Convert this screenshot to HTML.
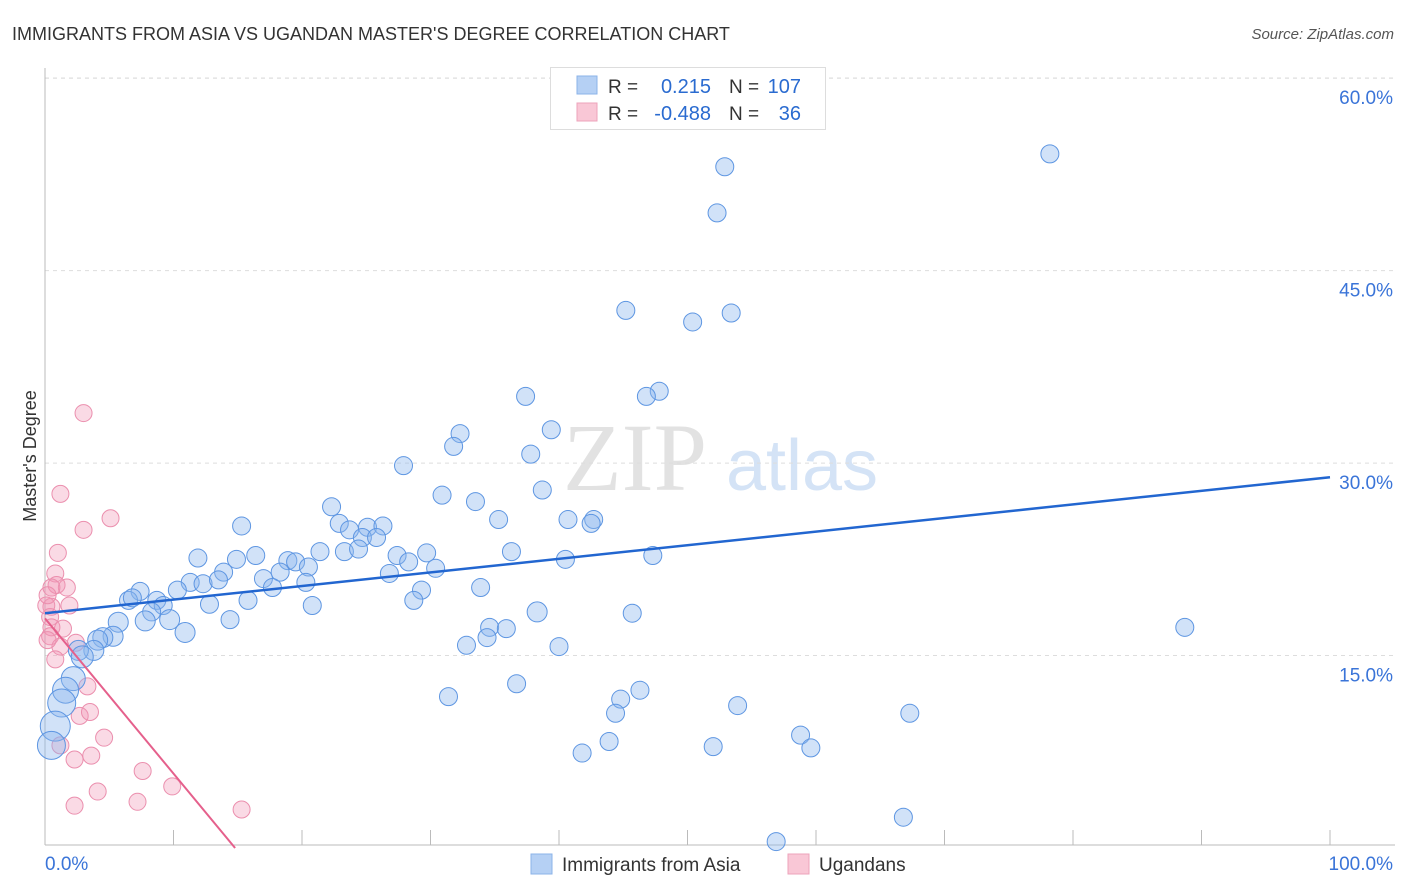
<!DOCTYPE html>
<html><head><meta charset="utf-8"><style>
body{margin:0;background:#fff;font-family:"Liberation Sans",sans-serif;}
#wrap{position:relative;width:1406px;height:892px;overflow:hidden}
</style></head><body>
<div id="wrap">
<svg id="svg" width="1406" height="892" xmlns="http://www.w3.org/2000/svg">
<text x="12" y="40" font-size="18" fill="#333">IMMIGRANTS FROM ASIA VS UGANDAN MASTER'S DEGREE CORRELATION CHART</text>
<text x="1394" y="39" font-size="15" fill="#555" font-style="italic" text-anchor="end">Source: ZipAtlas.com</text>
<text x="36" y="456" font-size="18" fill="#333" text-anchor="middle" transform="rotate(-90 36 456)">Master's Degree</text>
<g><text x="635" y="490" font-size="96" font-family="Liberation Serif,serif" fill="#e2e2e2" text-anchor="middle">ZIP</text><text x="802" y="490" font-size="72" fill="#d4e3f6" text-anchor="middle">atlas</text></g>
<g id="grid"></g><g id="axes"></g><g id="pts"></g><g id="trend"></g>
<g>
<rect x="550.5" y="67.5" width="275" height="62" fill="#fff" stroke="#ddd"/>
<rect x="577" y="76" width="20" height="18" fill="#b5d0f4" stroke="#8bb3e8"/>
<rect x="577" y="103" width="20" height="18" fill="#f9c7d6" stroke="#eda3bb"/>
<text x="608" y="93" font-size="19" fill="#333">R = </text><text x="711" y="93" font-size="20" fill="#2a6bd0" text-anchor="end">0.215</text>
<text x="729" y="93" font-size="19" fill="#333">N = </text><text x="801" y="93" font-size="20" fill="#2a6bd0" text-anchor="end">107</text>
<text x="608" y="120" font-size="19" fill="#333">R = </text><text x="711" y="120" font-size="20" fill="#2a6bd0" text-anchor="end">-0.488</text>
<text x="729" y="120" font-size="19" fill="#333">N = </text><text x="801" y="120" font-size="20" fill="#2a6bd0" text-anchor="end">36</text>
</g>
<g>
<rect x="531" y="854" width="21" height="20" fill="#b5d0f4" stroke="#8bb3e8"/><text x="562" y="871" font-size="19" fill="#333">Immigrants from Asia</text>
<rect x="788" y="854" width="21" height="20" fill="#f9c7d6" stroke="#eda3bb"/><text x="819" y="871" font-size="19" fill="#333">Ugandans</text>
</g>
</svg>
</div>
<script>
const blueX=[78.2,52.9,52.3,45.2,50.4,53.4,47.8,46.8,37.4,32.3,31.8,39.4,37.8,27.9,38.7,30.9,33.5,22.3,35.3,40.7,42.7,42.5,15.3,22.9,23.7,25.1,26.3,24.7,25.8,23.3,24.4,21.4,36.3,29.7,27.4,11.9,14.9,16.4,18.9,19.5,28.3,40.5,47.3,30.4,13.9,18.3,20.5,17.0,26.8,11.3,12.3,13.5,17.7,20.3,10.3,29.3,33.9,7.4,8.7,6.5,6.8,9.2,15.8,28.7,12.8,20.8,8.3,38.3,45.7,14.4,9.7,7.8,5.7,88.7,10.9,34.6,35.9,34.4,5.3,4.5,4.1,32.8,40.0,3.8,2.6,2.9,2.2,1.6,1.3,31.4,36.7,46.3,44.8,44.4,53.9,67.3,0.8,0.5,43.9,52.0,58.8,59.6,41.8,56.9,66.8];
const blueY=[54.1,53.1,49.5,41.9,41.0,41.7,35.6,35.2,35.2,32.3,31.3,32.6,30.7,29.8,27.9,27.5,27.0,26.6,25.6,25.6,25.6,25.3,25.1,25.3,24.8,25.0,25.1,24.2,24.2,23.1,23.3,23.1,23.1,23.0,22.8,22.6,22.5,22.8,22.4,22.3,22.3,22.5,22.8,21.8,21.5,21.5,21.9,21.0,21.4,20.7,20.6,20.9,20.3,20.7,20.1,20.1,20.3,20.0,19.3,19.3,19.5,18.9,19.3,19.3,19.0,18.9,18.4,18.4,18.3,17.8,17.8,17.7,17.6,17.2,16.8,17.2,17.1,16.4,16.5,16.4,16.2,15.8,15.7,15.4,15.4,14.9,13.2,12.3,11.3,11.8,12.8,12.3,11.6,10.5,11.1,10.5,9.5,8.0,8.3,7.9,8.8,7.8,7.4,0.5,2.4];
const blueR=[9,9,9,9,9,9,9,9,9,9,9,9,9,9,9,9,9,9,9,9,9,9,9,9,9,9,9,9,9,9,9,9,9,9,9,9,9,9,9,9,9,9,9,9,9,9,9,9,9,9,9,9,9,9,9,9,9,9,9,9,9,9,9,9,9,9,9,10,9,9,10,10,10,9,10,9,9,9,10,10,10,9,9,10,10,11,12,13,14,9,9,9,9,9,9,9,15,14,9,9,9,9,9,9,9];
const pinkX=[3.0,1.2,3.0,5.1,1.0,0.8,0.9,1.7,1.9,0.5,0.5,0.4,0.5,1.4,0.4,2.4,1.2,0.2,0.8,3.3,2.7,3.5,1.2,2.3,3.6,4.6,7.6,9.9,4.1,7.2,2.3,15.3,0.1,0.2];
const pinkY=[33.9,27.6,24.8,25.7,23.0,21.4,20.5,20.3,18.9,20.3,18.8,18.0,17.2,17.1,16.5,16.0,15.7,16.2,14.7,12.6,10.3,10.6,8.0,6.9,7.2,8.6,6.0,4.8,4.4,3.6,3.3,3.0,18.9,19.7];
const blueTrend=[18.3,28.9]; // y at x=0, y at x=100
const pinkTrend=[17.9,-1.21]; // intercept, slope
const yTicks=[15,30,45,60];
const xTicks=[0,10,20,30,40,50,60,70,80,90,100];
const NS="http://www.w3.org/2000/svg";
const X=v=>45+v*12.85, Y=v=>848-v*12.83;
function mk(p,t,a){const e=document.createElementNS(NS,t);for(const k in a)e.setAttribute(k,a[k]);p.appendChild(e);return e;}
const grid=document.getElementById('grid'),axes=document.getElementById('axes'),pts=document.getElementById('pts'),tr=document.getElementById('trend');
yTicks.forEach(t=>{
 const l=mk(grid,'line',{x1:45,x2:1395,y1:Y(t),y2:Y(t),stroke:'#ddd','stroke-dasharray':'4 4'});
 
 
 const tx=mk(grid,'text',{x:1393,y:Y(t)+26,'font-size':19,fill:'#3a74d8','text-anchor':'end'});tx.textContent=t.toFixed(1)+'%';
 
 
});
mk(grid,'line',{x1:45,x2:1395,y1:78,y2:78,stroke:'#ddd','stroke-dasharray':'4 4'});
mk(axes,'line',{x1:45,x2:45,y1:68,y2:845,stroke:'#bbb'});
mk(axes,'line',{x1:45,x2:1395,y1:845,y2:845,stroke:'#bbb'});
xTicks.forEach(t=>{const l=mk(axes,'line',{x1:X(t),x2:X(t),y1:830,y2:845,stroke:'#bbb'});
 
 });
[[0,'0.0%','start',45],[100,'100.0%','end',1393]].forEach(a=>{const tx=mk(axes,'text',{x:a[3],y:870,'font-size':19,fill:'#3a74d8','text-anchor':a[2]});tx.textContent=a[1];
 
 });
pinkX.forEach((v,i)=>{const c=mk(pts,'circle',{cx:X(v),cy:Y(pinkY[i]),r:8.5,fill:'rgba(242,150,180,0.35)',stroke:'#eb8fae','stroke-width':1});
 
 });
blueX.forEach((v,i)=>{const c=mk(pts,'circle',{cx:X(v),cy:Y(blueY[i]),r:blueR[i],fill:'rgba(140,182,238,0.4)',stroke:'#5e96e2','stroke-width':1});
 
 });
const bl=mk(tr,'line',{x1:X(0),y1:Y(blueTrend[0]),x2:X(100),y2:Y(blueTrend[1]),stroke:'#2266d0','stroke-width':2.5});


const xe=-pinkTrend[0]/pinkTrend[1];
const pl=mk(tr,'line',{x1:X(0),y1:Y(pinkTrend[0]),x2:X(xe),y2:Y(0),stroke:'#e5608c','stroke-width':2});


</script>
</body></html>
